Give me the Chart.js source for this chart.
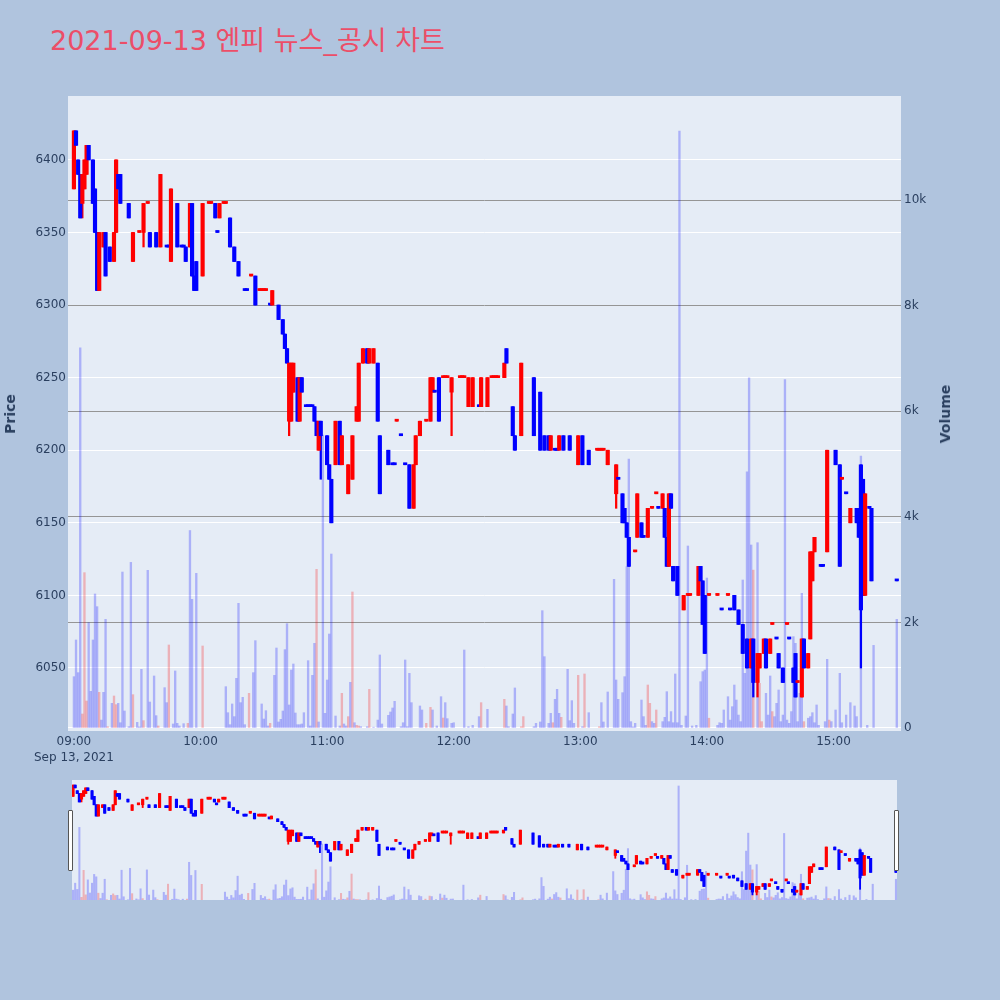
<!DOCTYPE html>
<html>
<head>
<meta charset="utf-8">
<script src="https://cdn.jsdelivr.net/npm/chart.js@4.4.0/dist/chart.umd.min.js"></script>
<style>
html,body{margin:0;padding:0;background:#B0C4DE;width:1000px;height:1000px;overflow:hidden;}
#wrap{position:relative;width:1000px;height:1000px;}
#main{position:absolute;left:0;top:0;}
#slider{position:absolute;left:72px;top:780px;}
.t{position:absolute;font-family:"DejaVu Sans","Noto Sans CJK KR",sans-serif;color:#2a3f5f;white-space:nowrap;}
#title{left:50px;top:27px;font-size:27px;line-height:27px;color:rgb(236,78,104);}
.ax{font-size:14px;font-weight:bold;line-height:16px;transform:translate(-50%,-50%) rotate(-90deg);}
.handle{position:absolute;top:810px;width:3px;height:59px;background:#fff;border:1px solid #555;border-radius:1px;}
</style>
</head>
<body>
<div id="wrap">
<div id="title" class="t">2021-09-13 엔피 뉴스_공시 차트</div>
<canvas id="main" width="1000" height="780" style="width:1000px;height:780px"></canvas>
<canvas id="slider" width="825" height="120" style="width:825px;height:120px"></canvas>
<div class="t ax" style="left:10px;top:414px;">Price</div>
<div class="t ax" style="left:945px;top:414px;">Volume</div>
<div class="handle" style="left:68px"></div>
<div class="handle" style="left:894px"></div>
</div>
<script>
// ---- tick labels ----
const xTickMinutes = [0, 60, 120, 180, 240, 300, 360];
const xTickLabels = ['09:00', '10:00', '11:00', '12:00', '13:00', '14:00', '15:00'];
const xDateLabel = 'Sep 13, 2021';
const priceTicks = [6050, 6100, 6150, 6200, 6250, 6300, 6350, 6400];
const volTicks = [0, 2000, 4000, 6000, 8000, 10000];
const volTickLabels = ['0', '2k', '4k', '6k', '8k', '10k'];

// ---- candles (minutes after 09:00) ----
const cMin = [0,1,2,3,4,5,6,7,9,10,11,12,14,15,17,19,20,21,22,26,28,31,33,35,36,39,41,44,45,46,49,51,52,53,55,56,57,58,61,64,65,67,68,69,71,72,74,76,78,81,82,84,86,88,89,90,91,93,94,97,99,100,101,102,103,104,106,107,108,110,111,112,113,114,115,116,117,120,121,122,124,126,127,130,132,134,135,137,139,140,142,144,145,149,151,152,153,155,157,159,161,162,164,167,169,170,171,173,175,176,177,179,183,184,185,187,189,192,193,196,198,199,200,201,204,205,208,209,212,218,221,223,225,226,228,229,230,232,235,239,241,244,248,249,250,251,253,257,258,260,261,262,263,266,267,269,270,272,274,276,277,279,280,281,282,283,284,286,289,291,292,296,297,298,299,301,305,307,310,311,313,315,317,319,321,322,324,325,327,328,330,331,333,334,336,338,339,341,342,343,345,346,348,349,350,351,354,355,357,361,363,364,366,368,371,372,373,374,375,377,378,390];
const cOpen = [6380,6420,6400,6390,6370,6380,6390,6410,6400,6380,6350,6310,6340,6350,6340,6330,6350,6390,6390,6370,6330,6350,6350,6370,6350,6350,6340,6340,6340,6330,6370,6340,6340,6340,6340,6370,6320,6330,6320,6370,6370,6370,6350,6360,6370,6370,6360,6340,6330,6310,6310,6320,6320,6310,6310,6310,6310,6300,6300,6300,6290,6280,6270,6220,6220,6240,6250,6220,6250,6230,6230,6230,6230,6230,6220,6200,6220,6210,6190,6180,6190,6220,6190,6170,6180,6220,6220,6260,6270,6260,6260,6260,6210,6200,6190,6190,6220,6210,6190,6190,6160,6190,6210,6220,6220,6240,6240,6250,6250,6250,6250,6240,6250,6250,6250,6230,6230,6230,6230,6230,6250,6250,6250,6250,6250,6270,6230,6210,6210,6250,6240,6210,6210,6200,6200,6200,6200,6210,6210,6190,6210,6200,6200,6200,6200,6200,6190,6170,6180,6170,6160,6150,6140,6130,6140,6150,6140,6140,6160,6170,6160,6160,6160,6140,6120,6170,6120,6120,6090,6100,6100,6100,6120,6110,6100,6100,6100,6090,6100,6090,6100,6090,6080,6070,6050,6070,6040,6050,6060,6070,6060,6080,6070,6060,6050,6080,6070,6050,6060,6040,6030,6070,6050,6070,6110,6130,6120,6120,6130,6200,6190,6180,6170,6150,6160,6160,6190,6180,6100,6160,6160,6110];
const cHigh = [6420,6420,6400,6390,6390,6400,6410,6410,6400,6380,6350,6350,6350,6350,6340,6350,6400,6390,6390,6370,6350,6350,6370,6370,6350,6350,6390,6340,6340,6380,6370,6340,6340,6340,6370,6370,6320,6330,6370,6370,6370,6370,6350,6370,6370,6370,6360,6340,6330,6310,6310,6320,6320,6310,6310,6310,6310,6300,6310,6300,6290,6280,6270,6260,6260,6260,6250,6250,6250,6230,6230,6230,6230,6230,6220,6220,6220,6210,6190,6180,6220,6220,6210,6190,6210,6230,6260,6270,6270,6270,6270,6260,6210,6200,6190,6190,6220,6210,6190,6190,6190,6210,6220,6220,6250,6250,6240,6250,6250,6250,6250,6250,6250,6250,6250,6250,6250,6230,6250,6250,6250,6250,6250,6250,6260,6270,6230,6210,6260,6250,6240,6210,6210,6210,6200,6200,6210,6210,6210,6210,6210,6200,6200,6200,6200,6200,6200,6190,6180,6170,6160,6150,6140,6130,6170,6150,6140,6160,6160,6170,6160,6170,6160,6140,6170,6170,6120,6120,6100,6100,6100,6120,6120,6110,6100,6100,6100,6090,6100,6090,6100,6090,6080,6070,6070,6070,6060,6060,6070,6070,6070,6080,6070,6060,6050,6080,6070,6050,6060,6040,6070,6070,6060,6130,6130,6140,6120,6120,6200,6200,6190,6180,6170,6160,6160,6160,6190,6180,6170,6160,6160,6110];
const cLow = [6380,6410,6390,6360,6360,6380,6390,6400,6370,6350,6310,6310,6340,6320,6330,6330,6350,6380,6370,6360,6330,6350,6340,6370,6340,6340,6340,6340,6340,6330,6340,6340,6340,6330,6340,6320,6310,6310,6320,6370,6370,6360,6350,6360,6370,6370,6340,6330,6320,6310,6310,6320,6300,6310,6310,6310,6310,6300,6300,6290,6280,6270,6260,6210,6220,6240,6220,6220,6240,6230,6230,6230,6230,6220,6210,6200,6180,6190,6180,6150,6190,6190,6190,6170,6180,6220,6220,6260,6260,6260,6260,6220,6170,6190,6190,6190,6220,6210,6190,6160,6160,6190,6210,6220,6220,6240,6240,6220,6250,6250,6250,6210,6250,6250,6250,6230,6230,6230,6230,6230,6250,6250,6250,6250,6250,6260,6210,6200,6210,6210,6200,6200,6200,6200,6200,6200,6200,6200,6200,6190,6190,6190,6200,6200,6200,6200,6190,6160,6180,6150,6150,6140,6120,6130,6140,6140,6140,6140,6160,6170,6160,6160,6140,6120,6120,6160,6110,6100,6090,6100,6100,6100,6110,6080,6060,6100,6100,6090,6100,6090,6090,6080,6060,6050,6050,6030,6030,6050,6060,6050,6060,6080,6070,6050,6040,6080,6070,6040,6030,6040,6030,6050,6050,6070,6110,6130,6120,6120,6130,6190,6120,6180,6170,6150,6150,6140,6050,6100,6100,6160,6110,6110];
const cClose = [6420,6410,6390,6360,6390,6400,6410,6400,6370,6350,6310,6350,6350,6320,6330,6350,6400,6380,6370,6360,6350,6350,6370,6370,6340,6340,6390,6340,6340,6380,6340,6340,6340,6330,6370,6320,6310,6310,6370,6370,6370,6360,6350,6370,6370,6370,6340,6330,6320,6310,6310,6320,6300,6310,6310,6310,6310,6300,6310,6290,6280,6270,6260,6260,6260,6260,6220,6250,6240,6230,6230,6230,6230,6220,6210,6220,6210,6190,6180,6150,6220,6190,6210,6190,6210,6230,6260,6270,6260,6270,6270,6220,6170,6190,6190,6190,6220,6210,6190,6160,6190,6210,6220,6220,6250,6250,6240,6220,6250,6250,6250,6250,6250,6250,6250,6250,6250,6230,6250,6250,6250,6250,6250,6250,6260,6260,6210,6200,6260,6210,6200,6200,6200,6210,6200,6200,6210,6200,6200,6210,6190,6190,6200,6200,6200,6200,6200,6190,6180,6150,6150,6140,6120,6130,6170,6140,6140,6160,6160,6170,6160,6170,6140,6120,6170,6160,6110,6100,6100,6100,6100,6120,6110,6080,6060,6100,6100,6090,6100,6090,6090,6080,6060,6050,6070,6040,6060,6060,6070,6050,6070,6080,6070,6050,6040,6080,6070,6040,6030,6040,6070,6050,6060,6130,6130,6140,6120,6120,6200,6190,6120,6180,6170,6160,6150,6140,6090,6100,6170,6160,6110,6110];

// ---- volume (minute, shares, 1 = rising candle colour) ----
const volMin = [0,1,2,3,4,5,6,7,8,9,10,11,12,13,14,15,16,18,19,20,21,22,23,24,26,27,28,30,31,32,33,35,36,38,39,40,43,44,45,47,48,49,50,52,54,55,56,58,61,72,73,74,75,76,77,78,79,80,81,83,85,86,89,90,91,92,93,95,96,97,98,99,100,101,102,103,104,105,106,107,108,109,111,112,113,114,115,116,118,119,120,121,122,124,126,127,128,129,130,131,132,133,134,135,136,139,140,142,144,145,146,149,150,151,152,155,156,157,158,159,160,164,165,167,169,170,172,174,175,176,177,179,180,185,187,189,192,193,196,204,205,206,208,209,212,213,218,219,221,222,223,225,226,227,228,229,230,231,234,235,236,237,239,241,242,244,249,250,251,253,256,257,258,260,261,262,263,264,265,266,269,270,271,272,273,274,275,276,279,280,281,282,283,284,285,286,287,288,290,291,293,295,297,298,299,300,301,305,306,307,308,310,311,312,313,314,315,316,317,318,319,320,321,322,324,325,326,328,329,330,331,332,333,334,335,336,337,338,339,340,341,342,343,344,345,346,348,349,350,351,352,353,356,357,358,359,361,363,364,366,368,370,371,373,376,379,390];
const volVal = [972,1667,1048,7200,265,2942,511,1995,694,1667,2538,2298,675,150,675,2058,25,467,606,442,467,100,2954,322,25,3137,631,107,20,1111,139,2986,492,985,234,38,764,480,1572,76,1080,88,38,82,88,3740,2437,2929,1553,783,290,63,455,215,941,2361,480,581,63,657,1048,1654,455,170,328,38,88,997,1515,114,164,322,1484,1976,436,1098,1212,284,63,63,76,290,1275,38,997,1604,3005,114,5550,278,909,1780,3295,227,38,657,76,38,215,865,2576,100,50,38,25,25,732,15,150,1383,76,240,303,379,505,25,100,1288,25,1035,480,417,341,88,391,341,38,593,189,480,177,88,100,1477,25,50,215,480,354,543,417,25,265,758,25,215,25,88,114,2222,1351,88,278,100,543,732,278,202,1111,139,518,88,997,25,1023,290,25,480,114,682,2816,909,543,669,972,3055,5095,120,20,88,530,215,50,814,467,120,88,341,120,202,688,120,310,100,1023,100,11307,50,227,3447,38,50,877,1067,1098,2840,185,50,100,88,341,593,150,404,814,530,245,120,2803,1035,4850,6630,3466,2990,3510,846,120,657,245,985,310,215,467,720,120,245,6600,150,88,310,1730,1604,120,657,2550,120,185,215,290,100,436,50,120,1300,150,120,341,1035,100,245,480,417,215,5150,50,1565,2058];
const volUp = [0,0,0,0,1,1,1,0,0,0,0,0,1,0,0,0,1,0,1,1,0,0,0,0,0,0,1,0,0,0,1,0,0,0,0,1,0,0,1,0,0,0,0,0,1,0,0,0,1,0,0,0,0,0,0,0,0,0,0,1,0,0,0,0,0,0,1,0,0,0,0,0,0,0,0,0,0,0,0,0,0,0,0,0,0,0,1,0,0,0,0,0,0,0,0,1,0,0,1,0,1,0,1,1,0,0,1,0,0,0,0,0,0,0,0,0,0,0,0,0,0,0,0,1,1,0,0,0,1,0,0,0,0,0,0,0,0,1,0,1,0,0,0,0,1,1,0,0,0,0,0,0,0,1,0,0,0,1,0,0,0,0,1,0,1,0,1,0,0,0,0,0,0,0,0,0,0,0,0,0,0,0,0,1,1,0,0,1,0,0,0,0,0,0,0,0,0,0,0,0,0,0,0,0,0,0,1,0,0,0,0,0,0,0,0,0,0,0,0,0,0,0,0,1,0,1,1,0,0,0,1,0,0,0,0,0,0,0,0,0,0,0,0,0,0,1,0,0,0,0,0,0,0,0,1,0,0,0,0,0,0,0,0,0,0,0,0,0];

// ---- colours ----
const UP = '#ff0000', DOWN = '#0000ff';
const isUp = [];
for (let i = 0; i < cMin.length; i++) {
  let up;
  if (cClose[i] > cOpen[i]) up = true;
  else if (cClose[i] < cOpen[i]) up = false;
  else if (i === 0) up = true;
  else if (cClose[i] > cClose[i - 1]) up = true;
  else if (cClose[i] < cClose[i - 1]) up = false;
  else up = isUp[i - 1];
  isUp.push(up);
}
const candleColors = isUp.map(u => u ? UP : DOWN);
const volColors = volUp.map(u => u ? 'rgba(255,0,0,0.25)' : 'rgba(0,0,255,0.25)');

function makeDatasets(bodyW, wickW, volW) {
  return [
    { type: 'bar', label: 'Volume', yAxisID: 'y1', order: 3, grouped: false,
      data: volMin.map((m, i) => ({ x: m, y: volVal[i] })),
      backgroundColor: volColors, barThickness: volW },
    { type: 'bar', label: 'Range', yAxisID: 'y', order: 2, grouped: false,
      data: cMin.map((m, i) => ({ x: m, y: [cLow[i], cHigh[i]] })),
      backgroundColor: candleColors, barThickness: wickW, minBarLength: 1.5 },
    { type: 'bar', label: 'Body', yAxisID: 'y', order: 1, grouped: false,
      data: cMin.map((m, i) => ({ x: m, y: [Math.min(cOpen[i], cClose[i]), Math.max(cOpen[i], cClose[i])] })),
      backgroundColor: candleColors, barThickness: bodyW, minBarLength: 2 }
  ];
}

const plotBg = {
  id: 'plotBg',
  beforeDraw(chart) {
    const a = chart.chartArea, c = chart.ctx;
    c.save(); c.fillStyle = '#E5ECF6'; c.fillRect(a.left, a.top, a.right - a.left, a.bottom - a.top); c.restore();
  }
};

Chart.defaults.font.family = '"DejaVu Sans", "Noto Sans CJK KR", sans-serif';
Chart.defaults.font.size = 12;
Chart.defaults.color = '#2a3f5f';

const tickColor = '#2a3f5f';

new Chart(document.getElementById('main'), {
  type: 'bar',
  data: { datasets: makeDatasets(3.5, 1.6, 1.7) },
  plugins: [plotBg],
  options: {
    responsive: false, animation: false, devicePixelRatio: 1,
    layout: { padding: { top: 96, right: 44, left: 0, bottom: 0 } },
    plugins: { legend: { display: false }, tooltip: { enabled: false }, title: { display: false } },
    scales: {
      x: {
        type: 'linear', position: 'bottom', min: -2.8, max: 392, offset: false,
        grid: { display: false, drawTicks: false }, border: { display: false },
        afterBuildTicks: s => { s.ticks = xTickMinutes.map(v => ({ value: v })); },
        afterFit: s => { s.height = 49; },
        ticks: {
          autoSkip: false, maxRotation: 0, padding: 3, color: tickColor,
          font: { size: 12, lineHeight: 1.35 },
          callback: (v) => {
            const i = xTickMinutes.indexOf(v);
            const lab = i >= 0 ? xTickLabels[i] : '';
            return i === 0 ? [lab, xDateLabel] : lab;
          }
        }
      },
      y: {
        type: 'linear', position: 'left', min: 6006.6, max: 6444,
        grid: { color: '#ffffff', lineWidth: 1, drawTicks: false }, border: { display: false },
        afterBuildTicks: s => { s.ticks = priceTicks.map(v => ({ value: v })); },
        afterFit: s => { s.width = 68; },
        ticks: { padding: 2, color: tickColor, callback: v => String(v) }
      },
      y1: {
        type: 'linear', position: 'right', min: -57, max: 11970,
        grid: { color: c => (c.tick && c.tick.value === 0) ? '#ffffff' : '#959595', lineWidth: 1, drawTicks: false },
        border: { display: false },
        afterBuildTicks: s => { s.ticks = volTicks.map(v => ({ value: v })); },
        afterFit: s => { s.width = 55; },
        ticks: { padding: 3, color: tickColor, callback: v => { const i = volTicks.indexOf(v); return i >= 0 ? volTickLabels[i] : ''; } }
      }
    }
  }
});

new Chart(document.getElementById('slider'), {
  type: 'bar',
  data: { datasets: makeDatasets(2.5, 1.2, 1.4) },
  plugins: [plotBg],
  options: {
    responsive: false, animation: false, devicePixelRatio: 1,
    layout: { padding: 0 },
    plugins: { legend: { display: false }, tooltip: { enabled: false } },
    scales: {
      x: { type: 'linear', display: false, min: -0.5, max: 390.5, offset: false },
      y: { type: 'linear', display: false, min: 6012, max: 6438 },
      y1: { type: 'linear', display: false, min: 0, max: 11900, position: 'right' }
    }
  }
});
</script>
</body>
</html>
